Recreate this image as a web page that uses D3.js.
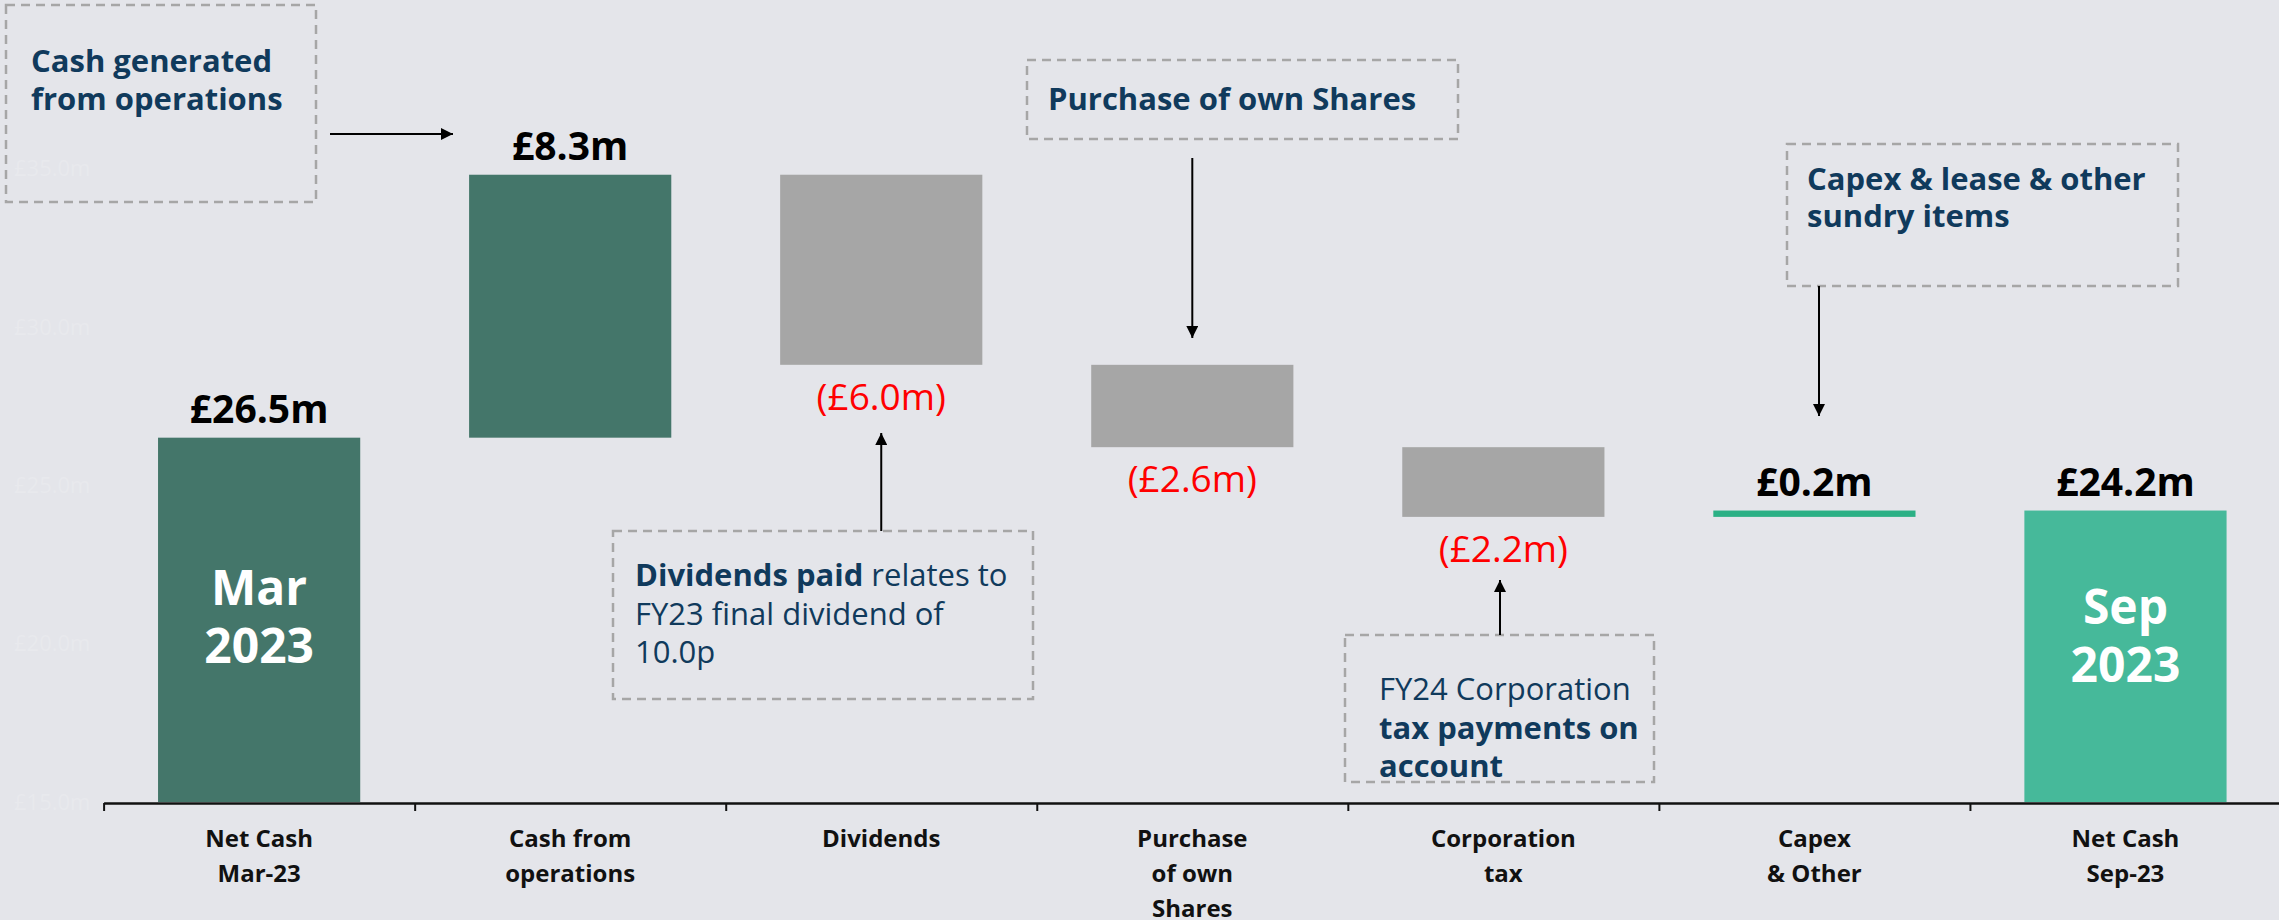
<!DOCTYPE html>
<html>
<head>
<meta charset="utf-8">
<script src="https://cdn.jsdelivr.net/npm/d3@7"></script>
<style>
  html, body { margin: 0; padding: 0; background: #e4e5ea; }
  svg { display: block; font-family: "Open Sans", "Noto Sans", sans-serif; }
</style>
</head>
<body>
<div id="chart"></div>
<script>
// Data for the waterfall (net cash bridge, £m)
const categories = ["Net Cash Mar-23", "Cash from operations", "Dividends", "Purchase of own Shares", "Corporation tax", "Capex & Other", "Net Cash Sep-23"];
const categoryLines = [["Net Cash", "Mar-23"], ["Cash from", "operations"], ["Dividends"], ["Purchase", "of own", "Shares"], ["Corporation", "tax"], ["Capex", "& Other"], ["Net Cash", "Sep-23"]];
const movements = [26.5, 8.3, -6.0, -2.6, -2.2, 0.2, 24.2];
const isTotal = [true, false, false, false, false, false, true];
const yTicks = [15, 20, 25, 30, 35];

// Canvas
const W = 2279, H = 920;
const svg = d3.select("#chart").append("svg")
    .attr("width", W)
    .attr("height", H);

// Scales
const x = d3.scaleBand()
  .domain(categories)
  .range([103.6, 2281])
  .paddingInner(0.35)
  .paddingOuter(0.175);

const edges = d3.scaleLinear()
  .domain([0, categories.length])
  .range([103.6, 2281]);

const y = d3.scaleLinear()
  .domain([15, 40])
  .range([802, 10]);

// running totals
let run = 0;
const bars = categories.map((c, i) => {
  let start, end;
  if (isTotal[i]) { start = y.domain()[0]; end = movements[i]; run = movements[i]; }
  else { start = run; end = run + movements[i]; run = end; }
  return { cat: c, i, value: movements[i], start, end, total: isTotal[i] };
});

const color = d3.scaleOrdinal()
  .domain(categories)
  .range(["#44766a", "#44766a", "#a6a6a6", "#a6a6a6", "#a6a6a6", "#2bb085", "#46b99a"]);

// faint y axis labels (barely visible, as in the source)
svg.append("g")
  .selectAll("text")
  .data(yTicks)
  .enter().append("text")
    .attr("x", 14)
    .attr("y", d => y(d))
    .attr("dy", "0.35em")
    .attr("font-size", 22)
    .attr("fill", "#e8e9ed")
    .text(d => "£" + d.toFixed(1) + "m");

// bars
svg.append("g")
  .selectAll("rect")
  .data(bars)
  .enter().append("rect")
    .attr("x", d => x(d.cat))
    .attr("width", x.bandwidth())
    .attr("y", d => y(Math.max(d.start, d.end)))
    .attr("height", d => Math.abs(y(d.start) - y(d.end)))
    .attr("fill", d => color(d.cat));

// value labels
const fmt = d3.format(".1f");
svg.append("g")
  .selectAll("text")
  .data(bars)
  .enter().append("text")
    .attr("x", d => x(d.cat) + x.bandwidth() / 2)
    .attr("y", d => d.value < 0 ? y(d.end) + 45 : y(Math.max(d.start, d.end)) - 15)
    .attr("text-anchor", "middle")
    .attr("font-size", d => d.value < 0 ? 37 : 39)
    .attr("font-weight", d => d.value < 0 ? 400 : 700)
    .attr("fill", d => d.value < 0 ? "#ff0000" : "#000")
    .text(d => d.value < 0 ? "(£" + fmt(-d.value) + "m)" : "£" + fmt(d.value) + "m");

// period labels inside the total bars
const periods = [{ cat: categories[0], lines: ["Mar", "2023"], mid: 617 }, { cat: categories[6], lines: ["Sep", "2023"], mid: 636 }];
periods.forEach(p => {
  svg.append("text")
    .attr("x", x(p.cat) + x.bandwidth() / 2)
    .attr("y", p.mid - 12)
    .attr("text-anchor", "middle")
    .attr("font-size", 48)
    .attr("font-weight", 700)
    .attr("fill", "#fff")
    .selectAll("tspan")
    .data(p.lines)
    .enter().append("tspan")
      .attr("x", x(p.cat) + x.bandwidth() / 2)
      .attr("dy", (d, i) => i ? 58 : 0)
      .text(d => d);
});

// x axis with ticks on the band edges
const axis = svg.append("g")
  .attr("transform", "translate(0,803)")
  .call(d3.axisBottom(edges).tickValues(d3.range(categories.length + 1)).tickFormat("").tickSizeInner(8).tickSizeOuter(0));
axis.select(".domain").attr("stroke", "#111").attr("stroke-width", 2.5);
axis.selectAll(".tick line").attr("stroke", "#111").attr("stroke-width", 2);

svg.append("g")
  .selectAll("text")
  .data(bars)
  .enter().append("text")
    .attr("x", d => x(d.cat) + x.bandwidth() / 2)
    .attr("y", 847)
    .attr("text-anchor", "middle")
    .attr("font-size", 24)
    .attr("font-weight", 700)
    .attr("fill", "#111")
  .selectAll("tspan")
  .data(d => categoryLines[d.i].map(t => ({ t, cx: x(d.cat) + x.bandwidth() / 2 })))
  .enter().append("tspan")
    .attr("x", d => d.cx)
    .attr("dy", (d, i) => i ? 35 : 0)
    .text(d => d.t);

// annotations
const navy = "#103a5c";
const defs = svg.append("defs");
defs.append("marker")
    .attr("id", "arrow")
    .attr("viewBox", "0 0 10 10")
    .attr("refX", 10).attr("refY", 5)
    .attr("markerWidth", 6.5).attr("markerHeight", 6)
    .attr("markerUnits", "strokeWidth")
    .attr("orient", "auto")
  .append("path")
    .attr("d", "M0,0L10,5L0,10z")
    .attr("fill", "#000");

function box(x0, y0, x1, y1) {
  svg.append("rect")
    .attr("x", x0).attr("y", y0)
    .attr("width", x1 - x0).attr("height", y1 - y0)
    .attr("fill", "none")
    .attr("stroke", "#a6a6a6")
    .attr("stroke-width", 2.5)
    .attr("stroke-dasharray", "9,6");
}
function arrow(x0, y0, x1, y1) {
  svg.append("line")
    .attr("x1", x0).attr("y1", y0)
    .attr("x2", x1).attr("y2", y1)
    .attr("stroke", "#000")
    .attr("stroke-width", 2)
    .attr("marker-end", "url(#arrow)");
}
// lines: array of arrays of [text, bold]
function note(x0, y0, lh, lines) {
  const t = svg.append("text")
    .attr("font-size", 31)
    .attr("fill", navy);
  lines.forEach((parts, li) => {
    parts.forEach((p, pi) => {
      const s = t.append("tspan").attr("font-weight", p[1] ? 700 : 400).text(p[0]);
      if (pi === 0) s.attr("x", x0).attr("y", y0 + li * lh);
    });
  });
}

const mid = c => x(c) + x.bandwidth() / 2;

box(6, 5, 316, 202);
note(31, 72, 38, [[["Cash generated", true]], [["from operations", true]]]);
arrow(330, 134, 453, 134);

box(1027, 60, 1458, 139);
note(1048, 110, 38, [[["Purchase of own Shares", true]]]);
arrow(mid(categories[3]), 158, mid(categories[3]), 338);

box(613, 531, 1033, 699);
note(635, 586, 38.5, [[["Dividends paid", true], [" relates to", false]], [["FY23 final dividend of", false]], [["10.0p", false]]]);
arrow(mid(categories[2]), 531, mid(categories[2]), 433);

box(1345, 635, 1654, 782);
note(1379, 700, 38.5, [[["FY24 Corporation", false]], [["tax payments on", true]], [["account", true]]]);
arrow(1500, 635, 1500, 580);

box(1787, 144, 2178, 286);
note(1807, 190, 37, [[["Capex & lease & other", true]], [["sundry items", true]]]);
arrow(1819, 286, 1819, 416);
</script>
</body>
</html>
